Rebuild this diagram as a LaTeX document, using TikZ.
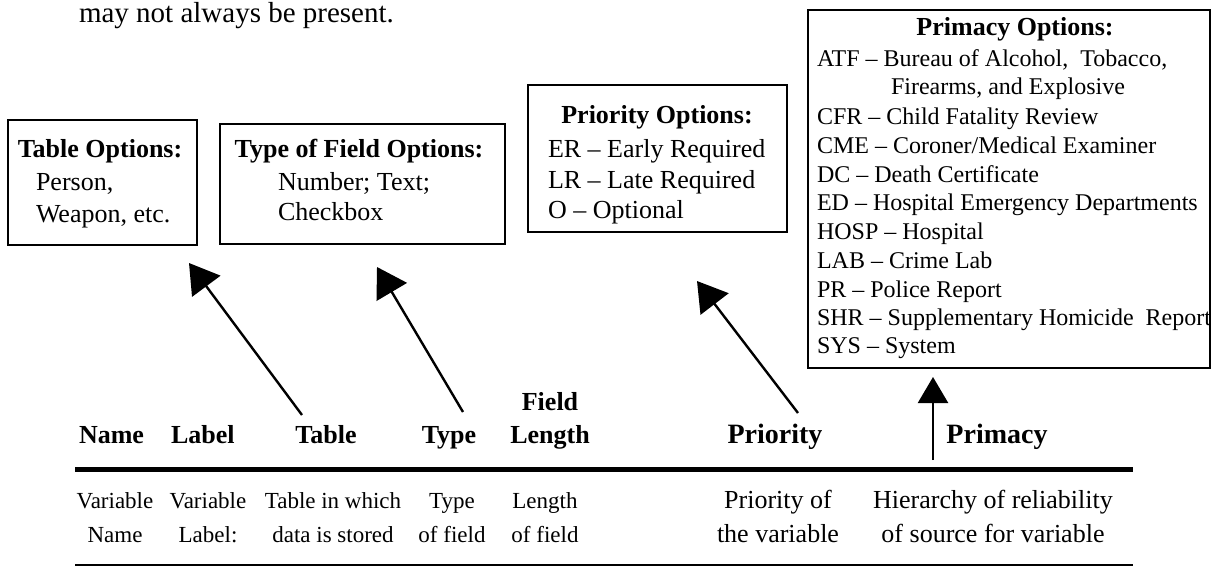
\documentclass[tikz,border=0pt]{standalone}
\usepackage{fontspec}
\setmainfont{Liberation Serif}
\usetikzlibrary{arrows.meta}
\begin{document}
\begin{tikzpicture}[x=1pt,y=-1pt,
  every node/.style={inner sep=0pt,outer sep=0pt},
  optbox/.style={draw,line width=2.4pt,rectangle,anchor=north west},
  boxtitle/.style={font=\fontsize{26}{30}\selectfont\bfseries,anchor=base},
  boxitem/.style={font=\fontsize{26}{30}\selectfont,anchor=base west},
  primitem/.style={font=\fontsize{24}{28}\selectfont,anchor=base west},
  head/.style={font=\fontsize{26}{30}\selectfont\bfseries,anchor=base},
  bighead/.style={font=\fontsize{28}{32}\selectfont\bfseries,anchor=base},
  body/.style={font=\fontsize{23}{34}\selectfont,anchor=base},
  bigbody/.style={font=\fontsize{26}{34}\selectfont,anchor=base},
  pointer/.style={line width=2.4pt,-{Triangle[width=35pt,length=29pt]}},
  uparrow/.style={line width=2.4pt,-{Triangle[width=30pt,length=26pt]}}]
\useasboundingbox (0,0) rectangle (1212,566);

% note
\node[font=\fontsize{29}{34}\selectfont,anchor=base west] (note) at (79,22) {may not always be present.};

% boxes
\node[optbox,minimum width=189pt,minimum height=125pt] (tbox) at (8,120) {};
\node[optbox,minimum width=285pt,minimum height=120pt] (fbox) at (220,124) {};
\node[optbox,minimum width=259pt,minimum height=147pt] (pbox) at (528,85) {};
\node[optbox,minimum width=402pt,minimum height=358pt] (mbox) at (808,10) {};

% table options
\node[boxtitle] (tt) at (100,157) {Table Options:};
\node[boxitem] (t1) at (36,190) {Person,};
\node[boxitem] (t2) at (36,222) {Weapon, etc.};

% type of field options
\node[boxtitle] (ft) at (359,157) {Type of Field Options:};
\node[boxitem] (f1) at (278,190) {Number; Text;};
\node[boxitem] (f2) at (278,220) {Checkbox};

% priority options
\node[boxtitle] (pt) at (657,123) {Priority Options:};
\node[boxitem] (p1) at (548,157) {ER – Early Required};
\node[boxitem] (p2) at (548,188) {LR – Late Required};
\node[boxitem] (p3) at (548,218) {O – Optional};

% primacy options
\node[boxtitle] (mt) at (1015,35) {Primacy Options:};
\node[primitem] (m1) at (817,66) {ATF – Bureau of Alcohol,\ \ Tobacco,};
\node[primitem] (m2) at (891,94) {Firearms, and Explosive};
\node[primitem] (m3) at (817,124) {CFR – Child Fatality Review};
\node[primitem] (m4) at (817,153) {CME – Coroner/Medical Examiner};
\node[primitem] (m5) at (817,182) {DC – Death Certificate};
\node[primitem] (m6) at (817,210) {ED – Hospital Emergency Departments};
\node[primitem] (m7) at (817,239) {HOSP – Hospital};
\node[primitem] (m8) at (817,268) {LAB – Crime Lab};
\node[primitem] (m9) at (817,297) {PR – Police Report};
\node[primitem] (m10) at (817,325) {SHR – Supplementary Homicide\ \ Report};
\node[primitem] (m11) at (817,353) {SYS – System};

% headers
\node[head,anchor=base west] (hname) at (79,443) {Name};
\node[head,anchor=base west] (hlabel) at (171,443) {Label};
\node[head] (htable) at (326,443) {Table};
\node[head] (htype) at (449,443) {Type};
\node[head] (hfield) at (550,410) {Field};
\node[head] (hlength) at (550,443) {Length};
\node[bighead] (hprio) at (775,443) {Priority};
\node[bighead] (hprim) at (997,443) {Primacy};

% rules
\coordinate (rl) at (75,469);
\coordinate (rr) at (1133,469);
\draw[line width=5pt] (rl) -- (rr);
\coordinate (bl) at (75,564.5);
\coordinate (br) at (1133,564.5);
\draw[line width=2pt] (bl) -- (br);

% body
\node[body] (b1a) at (115,508) {Variable};
\node[body] (b1b) at (115,542) {Name};
\node[body] (b2a) at (208,508) {Variable};
\node[body] (b2b) at (208,542) {Label:};
\node[body] (b3a) at (333,508) {Table in which};
\node[body] (b3b) at (333,542) {data is stored};
\node[body] (b4a) at (452,508) {Type};
\node[body] (b4b) at (452,542) {of field};
\node[body] (b5a) at (545,508) {Length};
\node[body] (b5b) at (545,542) {of field};
\node[bigbody] (b6a) at (778,508) {Priority of};
\node[bigbody] (b6b) at (778,542) {the variable};
\node[bigbody] (b7a) at (993,508) {Hierarchy of reliability};
\node[bigbody] (b7b) at (993,542) {of source for variable};

% arrows
\coordinate (a1s) at (302,415);
\coordinate (a1e) at (189,263);
\coordinate (a2s) at (463,412);
\coordinate (a2e) at (377,267);
\coordinate (a3s) at (798,413);
\coordinate (a3e) at (697,281);
\coordinate (a4s) at (933,460);
\coordinate (a4e) at (933,377);
\draw[pointer] (a1s) -- (a1e);
\draw[pointer] (a2s) -- (a2e);
\draw[pointer] (a3s) -- (a3e);
\draw[uparrow] (a4s) -- (a4e);
\end{tikzpicture}
\end{document}
